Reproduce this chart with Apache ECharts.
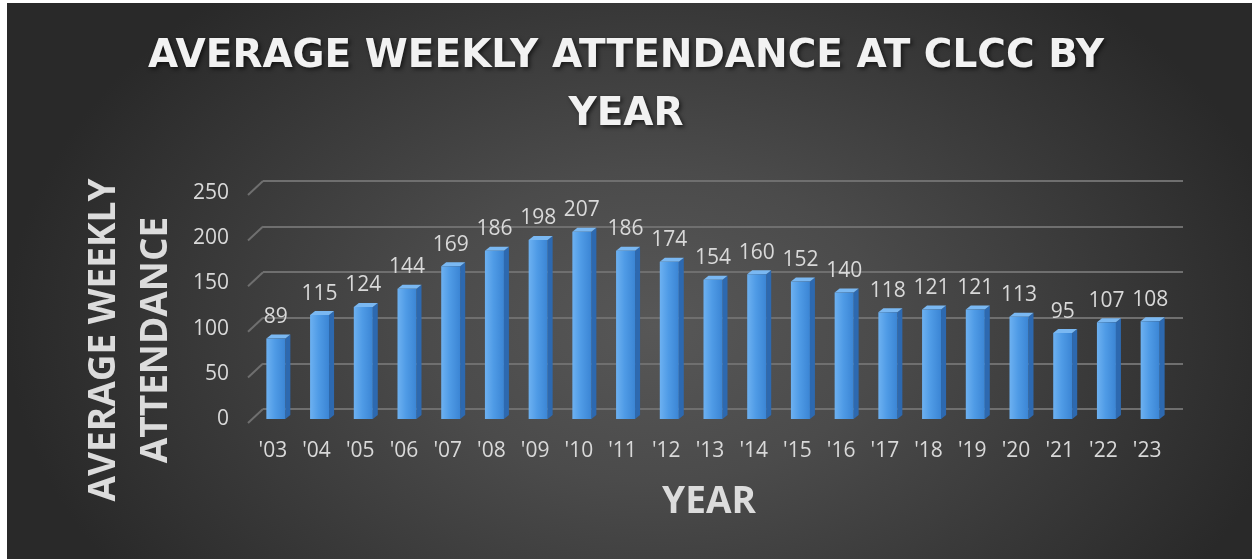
<!DOCTYPE html>
<html><head><meta charset="utf-8">
<script src="https://cdn.jsdelivr.net/npm/echarts@6/dist/echarts.min.js"></script>
<style>
html,body{margin:0;padding:0;background:#fff;}
#bg{position:absolute;left:7px;top:3px;width:1245px;height:556px;background:radial-gradient(ellipse 52% 80% at 52% 58%, #575757 0%, #4b4b4b 35%, #292929 100%);}
#chart{position:absolute;left:0;top:0;width:1252px;height:559px;}
</style></head><body>
<div id="bg"></div><div id="chart"></div>
<script>
const titleText = 'AVERAGE WEEKLY ATTENDANCE AT CLCC BY\nYEAR';
const yAxisTitle = 'AVERAGE WEEKLY\nATTENDANCE';
const xAxisTitle = 'YEAR';
const years = ["'03","'04","'05","'06","'07","'08","'09","'10","'11","'12","'13","'14","'15","'16","'17","'18","'19","'20","'21","'22","'23"];
const attendance = [89,115,124,144,169,186,198,207,186,174,154,160,152,140,118,121,121,113,95,107,108];
const yTicks = [0,50,100,150,200,250];

const chart = echarts.init(document.getElementById('chart'), null, {renderer:'canvas'});
const labelColor = '#d9d9d9';
const gridColor = '#6f6f6f';

function renderBar(params, api){
  const i = api.value(0), v = api.value(1);
  const top = api.coord([i, v]);
  const base = api.coord([i, 0]);
  const w = 19, d = 5, dy = 4;
  const left = top[0] - w/2 + 3;
  const h = base[1] - top[1];
  return {type:'group', children:[
    {type:'polygon', shape:{points:[[left+w, top[1]],[left+w+d, top[1]-dy],[left+w+d, base[1]-dy],[left+w, base[1]]]}, style:{fill:'#2d69b0'}},
    {type:'polygon', shape:{points:[[left, top[1]],[left+d, top[1]-dy],[left+w+d, top[1]-dy],[left+w, top[1]]]}, style:{fill:'#7ab8f2'}},
    {type:'rect', shape:{x:left, y:top[1], width:w, height:h},
     style:{fill:{type:'linear',x:0,y:0,x2:1,y2:0,colorStops:[{offset:0,color:'#6db1f1'},{offset:0.45,color:'#4f9be6'},{offset:1,color:'#3b85d4'}]}},
     textContent:{style:{text:String(v), fill:labelColor, fontSize:21, fontFamily:'Open Sans'}},
     textConfig:{position:'top', distance:11}}
  ]};
}

function renderSlant(params, api){
  const p = api.coord([0, api.value(1)]);
  const x0 = params.coordSys.x;
  return {type:'polyline', shape:{points:[[x0-15, p[1]+14],[x0, p[1]]]}, style:{stroke:gridColor, lineWidth:2, fill:null}};
}

chart.setOption({
  animation:false,
  backgroundColor:'transparent',
  title:{text:titleText, left:'center', top:23,
    textStyle:{fontFamily:'DejaVu Sans', fontWeight:'bold', fontSize:39, color:'#f2f2f2', lineHeight:58,
      textShadowColor:'rgba(0,0,0,0.6)', textShadowBlur:4, textShadowOffsetX:2, textShadowOffsetY:2}},
  grid:[
    {left:263, right:69, top:181, height:228},
    {left:251, right:83, top:193, height:226}
  ],
  xAxis:[
    {type:'category', gridIndex:0, data:years, show:false},
    {type:'category', gridIndex:1, data:years, axisLine:{show:false}, axisTick:{show:false},
     axisLabel:{color:labelColor, fontSize:21, fontFamily:'Open Sans', margin:22}}
  ],
  yAxis:[
    {type:'value', gridIndex:0, min:0, max:250, interval:50, axisLabel:{show:false}, axisLine:{show:false}, axisTick:{show:false},
     splitLine:{show:true, lineStyle:{color:gridColor, width:2}}},
    {type:'value', gridIndex:1, min:0, max:250, interval:50, axisLine:{show:false}, axisTick:{show:false}, splitLine:{show:false},
     axisLabel:{color:labelColor, fontSize:21, fontFamily:'Open Sans', margin:22}}
  ],
  graphic:[
    {type:'text', x:130, y:340, rotation:Math.PI/2,
     style:{text:yAxisTitle, fontFamily:'Open Sans', fontWeight:'bold', fontSize:37, lineHeight:52, fill:'#dcdcdc', align:'center', verticalAlign:'middle'}},
    {type:'text', x:709, y:502,
     style:{text:xAxisTitle, fontFamily:'Open Sans', fontWeight:'bold', fontSize:37, fill:'#dcdcdc', align:'center', verticalAlign:'middle'}}
  ],
  series:[
    {type:'custom', xAxisIndex:0, yAxisIndex:0, data:yTicks.map(v=>[0,v]), renderItem:renderSlant, clip:false, silent:true},
    {type:'custom', xAxisIndex:1, yAxisIndex:1, data:attendance.map((v,i)=>[i,v]), renderItem:renderBar, clip:false,
     encode:{x:0, y:1}}
  ]
});
</script>
</body></html>
